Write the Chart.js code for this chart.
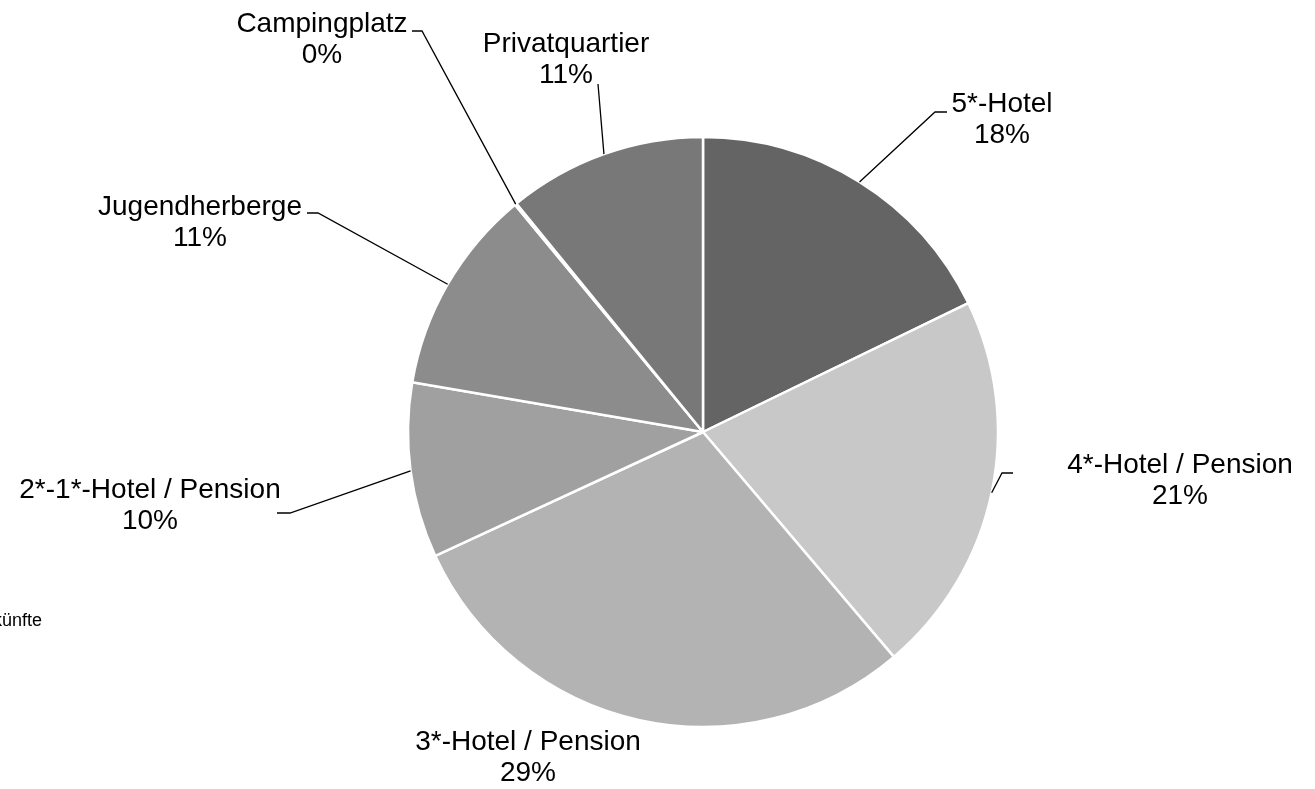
<!DOCTYPE html>
<html>
<head>
<meta charset="utf-8">
<script src="https://cdn.jsdelivr.net/npm/chart.js@4"></script>
<style>
  html, body { margin: 0; padding: 0; background: #fff; }
  #wrap { position: relative; width: 1315px; height: 789px; }
</style>
</head>
<body>
<div id="wrap"><canvas id="pieChart"></canvas></div>
<script>
// Data
const categories = ['5*-Hotel', '4*-Hotel / Pension', '3*-Hotel / Pension', '2*-1*-Hotel / Pension', 'Jugendherberge', 'Campingplatz', 'Privatquartier'];
const shares = [17.8, 21.0, 29.3, 9.6, 11.3, 0.1, 10.9];
const sliceColors = ['#646464', '#c8c8c8', '#b3b3b3', '#a0a0a0', '#8c8c8c', '#969696', '#787878'];

// Label layout: text centre x, first baseline y, leader points before the slice edge
const labelLayout = [
  { x: 1002, y: 112, leader: [[947, 112], [935, 112]] },
  { x: 1180, y: 473, leader: [[1013, 473], [1002, 473]] },
  { x: 528, y: 750, leader: null },
  { x: 150, y: 498, leader: [[277, 513], [290, 513]] },
  { x: 200, y: 215, leader: [[307, 213], [318, 213]] },
  { x: 322, y: 32, leader: [[412, 31], [422, 31]] },
  { x: 566, y: 52, leader: [[598, 84]] }
];

const FONT = '"Liberation Sans", Arial, Helvetica, sans-serif';

// Draw labels with leader lines
const pieLabels = {
  id: 'pieLabels',
  afterDatasetsDraw(chart) {
    const ctx = chart.ctx;
    const arcs = chart.getDatasetMeta(0).data;
    const total = shares.reduce((a, b) => a + b, 0);
    ctx.save();
    arcs.forEach((arc, i) => {
      const p = arc.getProps(['x', 'y', 'startAngle', 'endAngle', 'outerRadius'], true);
      const mid = (p.startAngle + p.endAngle) / 2;
      const ex = p.x + Math.cos(mid) * p.outerRadius;
      const ey = p.y + Math.sin(mid) * p.outerRadius;
      const lay = labelLayout[i];
      if (lay.leader) {
        ctx.strokeStyle = '#000';
        ctx.lineWidth = 1.3;
        ctx.beginPath();
        ctx.moveTo(lay.leader[0][0], lay.leader[0][1]);
        for (let k = 1; k < lay.leader.length; k++) ctx.lineTo(lay.leader[k][0], lay.leader[k][1]);
        ctx.lineTo(ex, ey);
        ctx.stroke();
      }
      ctx.fillStyle = '#000';
      ctx.font = '28px ' + FONT;
      ctx.textAlign = 'center';
      ctx.textBaseline = 'alphabetic';
      ctx.fillText(categories[i], lay.x, lay.y);
      ctx.fillText(Math.round(shares[i] / total * 100) + '%', lay.x, lay.y + 31);
    });
    // cut-off legend text at the left edge
    ctx.font = '18px ' + FONT;
    ctx.textAlign = 'right';
    ctx.fillText('Unterkünfte', 42, 626);
    ctx.restore();
  }
};

new Chart(document.getElementById('pieChart'), {
  type: 'pie',
  data: {
    labels: categories,
    datasets: [{
      data: shares,
      backgroundColor: sliceColors,
      borderColor: '#ffffff',
      borderWidth: 2.5
    }]
  },
  options: {
    responsive: true,
    maintainAspectRatio: false,
    animation: false,
    radius: 295,
    layout: {
      padding: { left: 408, right: 317, top: 137, bottom: 62 }
    },
    plugins: {
      legend: { display: false },
      tooltip: { enabled: false }
    }
  },
  plugins: [pieLabels]
});
</script>
</body>
</html>
